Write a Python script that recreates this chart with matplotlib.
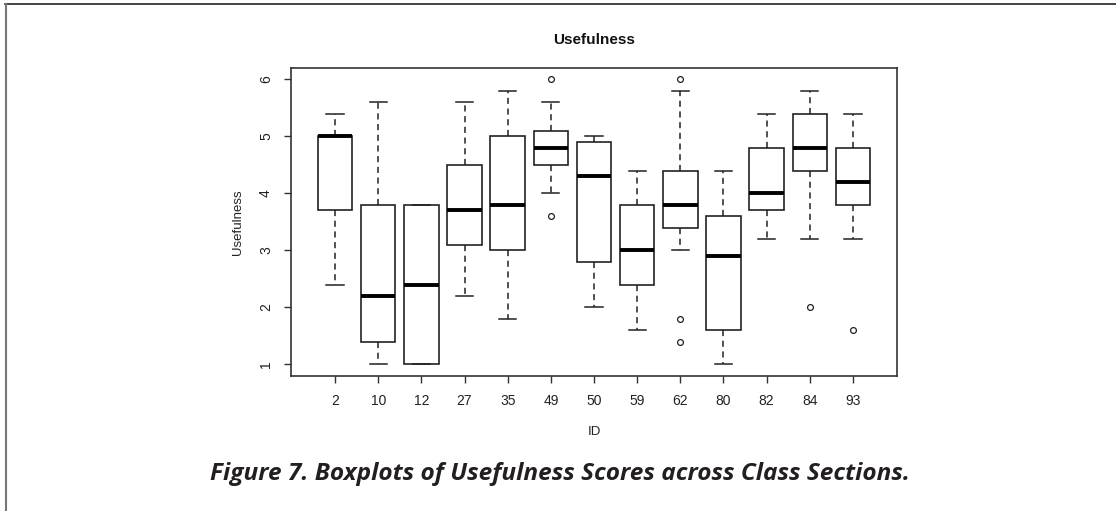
import matplotlib
matplotlib.use("Agg")
import matplotlib.pyplot as plt
from matplotlib.lines import Line2D

# Class section IDs and five-number summaries of usefulness scores
ids = ["2", "10", "12", "27", "35", "49", "50", "59", "62", "80", "82", "84", "93"]
whisker_lo = [2.4, 1.0, 1.0, 2.2, 1.8, 4.0, 2.0, 1.6, 3.0, 1.0, 3.2, 3.2, 3.2]
q1         = [3.7, 1.4, 1.0, 3.1, 3.0, 4.5, 2.8, 2.4, 3.4, 1.6, 3.7, 4.4, 3.8]
medians    = [5.0, 2.2, 2.4, 3.7, 3.8, 4.8, 4.3, 3.0, 3.8, 2.9, 4.0, 4.8, 4.2]
q3         = [5.0, 3.8, 3.8, 4.5, 5.0, 5.1, 4.9, 3.8, 4.4, 3.6, 4.8, 5.4, 4.8]
whisker_hi = [5.4, 5.6, 3.8, 5.6, 5.8, 5.6, 5.0, 4.4, 5.8, 4.4, 5.4, 5.8, 5.4]
outliers   = [[], [], [], [], [], [6.0, 3.6], [], [], [6.0, 1.8, 1.4], [], [], [2.0], [1.6]]

plt.rcParams["font.family"] = ["Liberation Sans", "DejaVu Sans"]

fig = plt.figure(figsize=(11.16, 5.11), dpi=100)
ax = fig.add_axes([291 / 1116, 1 - 375.7 / 511, (897 - 291) / 1116, (375.7 - 68) / 511])

stats = []
for i in range(len(ids)):
    stats.append(dict(label=ids[i], whislo=whisker_lo[i], q1=q1[i], med=medians[i],
                      q3=q3[i], whishi=whisker_hi[i], fliers=outliers[i]))

positions = list(range(1, len(ids) + 1))
ax.bxp(stats, positions=positions, widths=0.8, capwidths=0.4,
       patch_artist=True, showfliers=True,
       boxprops=dict(facecolor="white", edgecolor="#222222", linewidth=1.2),
       medianprops=dict(color="black", linewidth=2.8, solid_capstyle="butt"),
       whiskerprops=dict(color="#222222", linewidth=1.1, linestyle=(0, (4, 3))),
       capprops=dict(color="#222222", linewidth=1.1),
       flierprops=dict(marker="o", markersize=4.2, markerfacecolor="none",
                       markeredgecolor="#222222", markeredgewidth=0.9, linestyle="none"))

ax.set_xlim(-0.02, 14.02)
ax.set_ylim(0.8, 6.2)
ax.set_yticks([1, 2, 3, 4, 5, 6])
ax.set_xticks(positions)
ax.set_xticklabels(ids)
ax.tick_params(axis="both", length=5, width=1.0, color="#333333", labelsize=10,
               labelcolor="#222222")
ax.tick_params(axis="x", pad=8)
ax.tick_params(axis="y", pad=8)
for lab in ax.get_yticklabels():
    lab.set_rotation(90)
    lab.set_va("center")
for sp in ax.spines.values():
    sp.set_linewidth(1.2)
    sp.set_color("#333333")

ax.set_title("Usefulness", fontsize=11, fontweight="bold", pad=17, color="#111111")
ax.set_ylabel("Usefulness", fontsize=9.5, labelpad=11, color="#222222")
fig.text(594 / 1116, 1 - 432 / 511, "ID", fontsize=9.5, ha="center", va="center",
         color="#222222")

fig.text(560 / 1116, 1 - 474 / 511,
         "Figure 7. Boxplots of Usefulness Scores across Class Sections.",
         fontsize=17.6, fontweight="bold", style="italic", ha="center", va="center",
         color="#231f20", family=["Open Sans", "DejaVu Sans"])

# page frame: top rule and left rule
fig.add_artist(Line2D([5 / 1116, 1], [1 - 4 / 511, 1 - 4 / 511], transform=fig.transFigure,
                      color="#222222", linewidth=1.2))
fig.add_artist(Line2D([5.5 / 1116, 5.5 / 1116], [0, 1 - 4 / 511], transform=fig.transFigure,
                      color="#777777", linewidth=1.5))

fig.savefig("out.png", dpi=100, facecolor="white")
